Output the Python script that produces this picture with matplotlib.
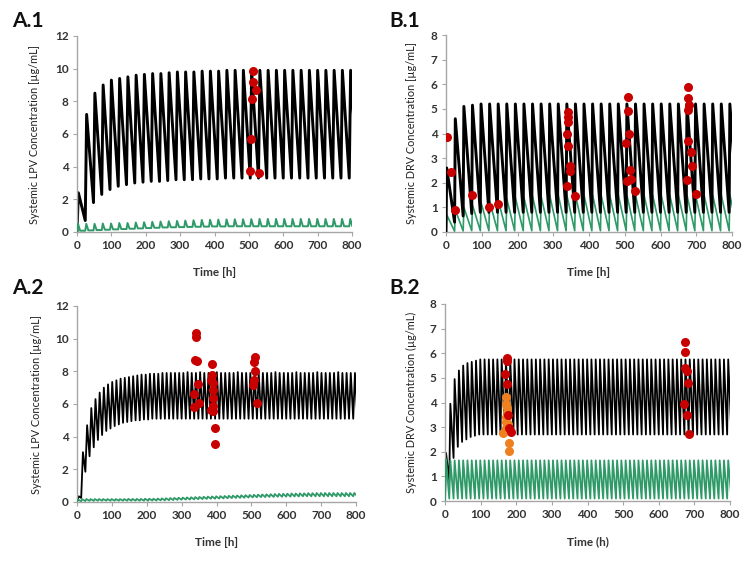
import numpy as np
import matplotlib.pyplot as plt

plt.rcParams['font.family'] = ['Lato', 'DejaVu Sans']

# ---------------- data ----------------
# dosing schedules (h)
doses_24 = np.arange(0, 800, 24)   # once daily (A.1, B.1)
doses_12 = np.arange(0, 800, 12)   # twice daily (A.2, B.2)

# A.1  LPV, peak after each dose / trough before each dose (ug/mL)
a1_black_peak = [2.4, 7.2, 8.5, 9.0, 9.3, 9.4, 9.5, 9.6, 9.65, 9.7, 9.7, 9.75,
                 9.8, 9.8, 9.8, 9.85, 9.85, 9.85, 9.9, 9.9, 9.9, 9.9, 9.9, 9.9,
                 9.9, 9.9, 9.9, 9.9, 9.9, 9.9, 9.9, 9.9, 9.9, 9.9]
a1_black_trough = [0.0, 0.7, 1.8, 2.3, 2.6, 2.8, 2.9, 3.0, 3.05, 3.1, 3.1, 3.15,
                   3.2, 3.2, 3.2, 3.25, 3.25, 3.25, 3.3, 3.3, 3.3, 3.3, 3.3, 3.3,
                   3.3, 3.3, 3.3, 3.3, 3.3, 3.3, 3.3, 3.3, 3.3, 3.3, 3.3]
a1_green_peak = [0.5, 0.5, 0.5, 0.52, 0.52, 0.55, 0.55, 0.58, 0.6, 0.62, 0.64, 0.66,
                 0.68, 0.7, 0.72, 0.74, 0.75, 0.76, 0.77, 0.78, 0.78, 0.79, 0.8, 0.8,
                 0.8, 0.8, 0.8, 0.8, 0.8, 0.8, 0.8, 0.8, 0.8, 0.8]
a1_green_trough = [0.0, 0.08, 0.1, 0.12, 0.14, 0.16, 0.18, 0.2, 0.22, 0.24, 0.26, 0.28,
                   0.29, 0.3, 0.31, 0.32, 0.33, 0.34, 0.34, 0.35, 0.35, 0.35, 0.35, 0.35,
                   0.35, 0.35, 0.35, 0.35, 0.35, 0.35, 0.35, 0.35, 0.35, 0.35, 0.35]
a1_obs_t = [511, 511, 520, 509, 506, 502, 528]
a1_obs_c = [9.86, 9.21, 8.70, 8.13, 5.68, 3.71, 3.61]

# B.1  DRV
b1_black_peak = [2.6, 4.6, 5.1, 5.15, 5.2, 5.2, 5.2, 5.2, 5.2, 5.2, 5.2, 5.2,
                 5.2, 5.2, 5.2, 5.2, 5.2, 5.2, 5.2, 5.2, 5.2, 5.2, 5.2, 5.2,
                 5.2, 5.2, 5.2, 5.2, 5.2, 5.2, 5.2, 5.2, 5.2, 5.2]
b1_black_trough = [0.0, 0.4, 0.65, 0.75, 0.8, 0.8, 0.8, 0.8, 0.8, 0.8, 0.8, 0.8,
                   0.8, 0.8, 0.8, 0.8, 0.8, 0.8, 0.8, 0.8, 0.8, 0.8, 0.8, 0.8,
                   0.8, 0.8, 0.8, 0.8, 0.8, 0.8, 0.8, 0.8, 0.8, 0.8, 0.8]
b1_green_peak = [0.7, 0.9, 1.0, 1.1, 1.2, 1.25, 1.3, 1.35, 1.4, 1.4, 1.45, 1.45,
                 1.5, 1.5, 1.5, 1.5, 1.5, 1.5, 1.5, 1.5, 1.5, 1.5, 1.5, 1.5,
                 1.5, 1.5, 1.5, 1.5, 1.5, 1.5, 1.5, 1.5, 1.5, 1.5]
b1_green_trough = [0.0, 0.03, 0.04, 0.05, 0.05, 0.05, 0.05, 0.05, 0.05, 0.05, 0.05, 0.05,
                   0.05, 0.05, 0.05, 0.05, 0.05, 0.05, 0.05, 0.05, 0.05, 0.05, 0.05, 0.05,
                   0.05, 0.05, 0.05, 0.05, 0.05, 0.05, 0.05, 0.05, 0.05, 0.05, 0.05]
b1_obs_t = [3, 14, 24, 73, 121, 145,
            340, 340, 341, 338, 342, 348, 348, 338, 362,
            508, 508, 513, 504, 516, 505, 518, 530,
            678, 678, 681, 676, 676, 686, 688, 674, 698]
b1_obs_c = [3.84, 2.43, 0.88, 1.49, 1.0, 1.15,
            4.86, 4.66, 4.46, 3.97, 3.51, 2.66, 2.46, 1.88, 1.45,
            5.47, 4.92, 3.97, 3.61, 2.5, 2.08, 2.15, 1.65,
            5.89, 5.46, 5.15, 4.96, 3.68, 3.24, 2.66, 2.11, 1.54]

# A.2  LPV, twice daily
a2_black_peak = [0.35, 3.05, 4.7, 5.75, 6.3, 6.7, 7.0, 7.2, 7.35, 7.45, 7.55, 7.6,
                 7.65, 7.7, 7.75, 7.8, 7.8, 7.85, 7.85, 7.85, 7.9, 7.9, 7.9, 7.9,
                 7.9, 7.9, 7.95, 7.9, 7.9, 7.95, 7.9, 7.9, 7.9, 7.95, 7.9, 7.9,
                 7.9, 7.9, 7.95, 7.9, 7.9, 7.9, 7.95, 7.9, 7.9, 7.9, 7.9, 7.95,
                 7.9, 7.9, 7.9, 7.9, 7.95, 7.9, 7.9, 7.9, 7.9, 7.95, 7.9, 7.9,
                 7.9, 7.9, 7.95, 7.9, 7.9, 7.9, 7.9]
a2_black_trough = [0.0, 0.25, 1.85, 2.8, 3.35, 3.8, 4.1, 4.35, 4.5, 4.65, 4.75, 4.85,
                   4.9, 4.95, 5.0, 5.0, 5.05, 5.05, 5.1, 5.1, 5.1, 5.1, 5.1, 5.1,
                   5.1, 5.1, 5.1, 5.1, 5.1, 5.1, 5.1, 5.1, 5.1, 5.1, 5.1, 5.1,
                   5.1, 5.1, 5.1, 5.1, 5.1, 5.1, 5.1, 5.1, 5.1, 5.1, 5.1, 5.1,
                   5.1, 5.1, 5.1, 5.1, 5.1, 5.1, 5.1, 5.1, 5.1, 5.1, 5.1, 5.1,
                   5.1, 5.1, 5.1, 5.1, 5.1, 5.1, 5.1, 5.1]
a2_green_peak = [0.15, 0.17, 0.18, 0.18, 0.18, 0.18, 0.18, 0.18, 0.18, 0.18, 0.18, 0.18,
                 0.19, 0.19, 0.19, 0.19, 0.2, 0.2, 0.2, 0.21, 0.22, 0.23, 0.24, 0.25,
                 0.26, 0.27, 0.28, 0.29, 0.3, 0.31, 0.32, 0.33, 0.34, 0.35, 0.36, 0.37,
                 0.38, 0.39, 0.4, 0.41, 0.42, 0.43, 0.44, 0.45, 0.46, 0.47, 0.48, 0.49,
                 0.5, 0.5, 0.51, 0.52, 0.52, 0.53, 0.53, 0.54, 0.54, 0.55, 0.55, 0.55,
                 0.55, 0.55, 0.55, 0.55, 0.55, 0.55, 0.55]
a2_green_trough = [0.0, 0.05, 0.06, 0.07, 0.07, 0.08, 0.08, 0.08, 0.08, 0.08, 0.08, 0.08,
                   0.08, 0.08, 0.08, 0.08, 0.08, 0.08, 0.09, 0.09, 0.1, 0.1, 0.11, 0.12,
                   0.13, 0.14, 0.15, 0.15, 0.16, 0.17, 0.18, 0.19, 0.2, 0.2, 0.21, 0.22,
                   0.23, 0.24, 0.25, 0.25, 0.26, 0.27, 0.28, 0.29, 0.3, 0.3, 0.31, 0.31,
                   0.32, 0.32, 0.33, 0.33, 0.34, 0.34, 0.35, 0.35, 0.35, 0.35, 0.35, 0.35,
                   0.35, 0.35, 0.35, 0.35, 0.35, 0.35, 0.35, 0.35]
a2_obs_t = [341, 341, 339, 344, 336, 348, 336, 351,
            387, 387, 384, 391, 390, 390, 390, 384, 391, 396, 396,
            511, 508, 511, 508, 504, 515]
a2_obs_c = [10.36, 10.08, 8.69, 8.65, 6.64, 7.22, 5.83, 6.07,
            8.42, 7.77, 7.46, 7.26, 6.85, 6.34, 5.87, 5.62, 5.56, 4.56, 3.58,
            8.89, 8.59, 8.01, 7.46, 7.15, 6.07]

# B.2  DRV, twice daily
b2_black_peak = [1.95, 3.95, 4.95, 5.3, 5.5, 5.6, 5.65, 5.7, 5.75, 5.75, 5.75, 5.75,
                 5.75, 5.75, 5.75, 5.75, 5.75, 5.75, 5.75, 5.75, 5.75, 5.75, 5.75, 5.75,
                 5.75, 5.75, 5.75, 5.75, 5.75, 5.75, 5.75, 5.75, 5.75, 5.75, 5.75, 5.75,
                 5.75, 5.75, 5.75, 5.75, 5.75, 5.75, 5.75, 5.75, 5.75, 5.75, 5.75, 5.75,
                 5.75, 5.75, 5.75, 5.75, 5.75, 5.75, 5.75, 5.75, 5.75, 5.75, 5.75, 5.75,
                 5.75, 5.75, 5.75, 5.75, 5.75, 5.75, 5.75]
b2_black_trough = [0.0, 0.8, 1.75, 2.2, 2.4, 2.5, 2.6, 2.65, 2.7, 2.7, 2.7, 2.7,
                   2.7, 2.7, 2.7, 2.7, 2.7, 2.7, 2.7, 2.7, 2.7, 2.7, 2.7, 2.7,
                   2.7, 2.7, 2.7, 2.7, 2.7, 2.7, 2.7, 2.7, 2.7, 2.7, 2.7, 2.7,
                   2.7, 2.7, 2.7, 2.7, 2.7, 2.7, 2.7, 2.7, 2.7, 2.7, 2.7, 2.7,
                   2.7, 2.7, 2.7, 2.7, 2.7, 2.7, 2.7, 2.7, 2.7, 2.7, 2.7, 2.7,
                   2.7, 2.7, 2.7, 2.7, 2.7, 2.7, 2.7, 2.7]
b2_green_peak = [1.7, 1.65, 1.65, 1.65, 1.65, 1.65, 1.65, 1.65, 1.65, 1.65, 1.65, 1.65,
                 1.65, 1.65, 1.65, 1.65, 1.65, 1.65, 1.65, 1.65, 1.65, 1.65, 1.65, 1.65,
                 1.65, 1.65, 1.65, 1.65, 1.65, 1.65, 1.65, 1.65, 1.65, 1.65, 1.65, 1.65,
                 1.65, 1.65, 1.65, 1.65, 1.65, 1.65, 1.65, 1.65, 1.65, 1.65, 1.65, 1.65,
                 1.65, 1.65, 1.65, 1.65, 1.65, 1.65, 1.65, 1.65, 1.65, 1.65, 1.65, 1.65,
                 1.65, 1.65, 1.65, 1.65, 1.65, 1.65, 1.65]
b2_green_trough = [0.0, 0.1, 0.1, 0.1, 0.1, 0.1, 0.1, 0.1, 0.1, 0.1, 0.1, 0.1,
                   0.1, 0.1, 0.1, 0.1, 0.1, 0.1, 0.1, 0.1, 0.1, 0.1, 0.1, 0.1,
                   0.1, 0.1, 0.1, 0.1, 0.1, 0.1, 0.1, 0.1, 0.1, 0.1, 0.1, 0.1,
                   0.1, 0.1, 0.1, 0.1, 0.1, 0.1, 0.1, 0.1, 0.1, 0.1, 0.1, 0.1,
                   0.1, 0.1, 0.1, 0.1, 0.1, 0.1, 0.1, 0.1, 0.1, 0.1, 0.1, 0.1,
                   0.1, 0.1, 0.1, 0.1, 0.1, 0.1, 0.1, 0.1]
b2_red_t = [174, 174, 169, 175, 178, 181, 185,
            675, 675, 673, 678, 682, 671, 680, 685]
b2_red_c = [5.80, 5.67, 5.16, 4.76, 3.49, 2.95, 2.81,
            6.44, 6.07, 5.39, 5.26, 4.78, 3.94, 3.49, 2.74]
b2_orange_t = [172, 172, 174, 175, 170, 172, 178, 170, 164, 179, 181]
b2_orange_c = [4.24, 3.94, 3.76, 3.63, 3.42, 3.22, 3.12, 2.95, 2.77, 2.36, 2.04]


def pk_trace(doses, peaks, troughs, tmax, t_back=None):
    """Connect trough -> peak -> (baseline) -> next trough for every dose."""
    step = doses[1] - doses[0]
    xs, ys = [doses[0]], [troughs[0]]
    for i, d in enumerate(doses):
        xs.append(d + tmax)
        ys.append(peaks[i])
        if t_back is not None:
            xs.append(d + t_back)
            ys.append(troughs[i + 1])
        xs.append(d + step)
        ys.append(troughs[i + 1])
    return np.array(xs), np.array(ys)


BLACK = '#000000'
GREEN = '#2f9a68'
RED = '#c80000'
ORANGE = '#ee8020'
SPINE = '#a6a6a6'
TXT = '#333333'

W, H = 754, 561
fig = plt.figure(figsize=(W / 100, H / 100), dpi=100)


def px_axes(l, t, r, b):
    return fig.add_axes([l / W, 1 - b / H, (r - l) / W, (b - t) / H])


def style(ax, ymax, ystep, ylabel, xlabel, ylab_x):
    ax.set_xlim(0, 800)
    ax.set_ylim(0, ymax)
    ax.set_xticks(np.arange(0, 801, 100))
    ax.set_yticks(np.arange(0, ymax + 0.1, ystep))
    for s in ['top', 'right']:
        ax.spines[s].set_visible(False)
    for s in ['left', 'bottom']:
        ax.spines[s].set_color(SPINE)
        ax.spines[s].set_linewidth(1.0)
    ax.tick_params(colors=SPINE, length=3, width=0.8, labelsize=8.5,
                   labelcolor=TXT, pad=3)
    for lab in ax.get_xticklabels() + ax.get_yticklabels():
        lab.set_fontweight('bold')
    ax.set_ylabel(ylabel, fontsize=7.8, color='#222222')
    ax.yaxis.set_label_coords(ylab_x, 0.5)
    ax.set_xlabel(xlabel, fontsize=8.5, fontweight='bold', color=TXT)
    ax.xaxis.set_label_coords(0.5, -0.18)


# A.1
ax = px_axes(77, 36, 352, 232)
x, y = pk_trace(doses_24, a1_black_peak, a1_black_trough, 4)
ax.plot(x, y, color=BLACK, lw=2.1, zorder=2)
x, y = pk_trace(doses_24, a1_green_peak, a1_green_trough, 3, 9)
ax.plot(x, y, color=GREEN, lw=1.4, zorder=3)
ax.plot(a1_obs_t, a1_obs_c, 'o', color=RED, ms=6.5, mec='none', zorder=5)
style(ax, 12, 2, 'Systemic LPV Concentration [µg/mL]', 'Time [h]', -0.135)

# B.1
ax = px_axes(446, 35, 732, 232)
x, y = pk_trace(doses_24, b1_green_peak, b1_green_trough, 2)
ax.plot(x, y, color=GREEN, lw=1.2, zorder=2)
x, y = pk_trace(doses_24, b1_black_peak, b1_black_trough, 2)
ax.plot(x, y, color=BLACK, lw=2.1, zorder=3)
ax.plot(b1_obs_t, b1_obs_c, 'o', color=RED, ms=6.5, mec='none', zorder=5)
style(ax, 8, 1, 'Systemic DRV Concentration [µg/mL]', 'Time [h]', -0.10)

# A.2
ax = px_axes(77, 306, 356, 502)
x, y = pk_trace(doses_12, a2_black_peak, a2_black_trough, 5)
ax.plot(x, y, color=BLACK, lw=1.3, zorder=2)
x, y = pk_trace(doses_12, a2_green_peak, a2_green_trough, 3)
ax.plot(x, y, color=GREEN, lw=1.3, zorder=3)
ax.plot(a2_obs_t, a2_obs_c, 'o', color=RED, ms=6.5, mec='none', zorder=5)
style(ax, 12, 2, 'Systemic LPV Concentration [µg/mL]', 'Time [h]', -0.125)

# B.2
ax = px_axes(445, 304, 730, 501)
x, y = pk_trace(doses_12, b2_black_peak, b2_black_trough, 3)
ax.plot(x, y, color=BLACK, lw=1.3, zorder=2)
x, y = pk_trace(doses_12, b2_green_peak, b2_green_trough, 3)
ax.plot(x, y, color=GREEN, lw=1.3, zorder=3)
ax.plot(b2_orange_t, b2_orange_c, 'o', color=ORANGE, ms=6.5, mec='none', zorder=5)
ax.plot(b2_red_t, b2_red_c, 'o', color=RED, ms=6.5, mec='none', zorder=6)
style(ax, 8, 1, 'Systemic DRV Concentration (µg/mL)', 'Time (h)', -0.098)

# panel labels
for lab, xp, yp in [('A.1', 12, 27), ('B.1', 389, 27), ('A.2', 12, 294), ('B.2', 389, 294)]:
    fig.text(xp / W, 1 - yp / H, lab, fontsize=15, fontweight='bold',
             color='#111111', va='baseline', ha='left')

fig.savefig('out.png', dpi=100)
